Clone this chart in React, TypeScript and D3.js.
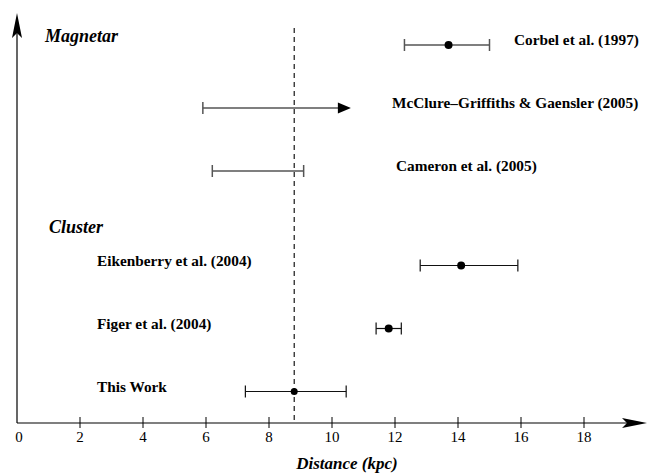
import * as d3 from "d3";

// distances in kpc
const studies = [
  "Corbel et al. (1997)",
  "McClure\u2013Griffiths & Gaensler (2005)",
  "Cameron et al. (2005)",
  "Eikenberry et al. (2004)",
  "Figer et al. (2004)",
  "This Work",
];
const groups = ["Magnetar", "Magnetar", "Magnetar", "Cluster", "Cluster", "Cluster"];
const central: (number | null)[] = [13.7, null, null, 14.1, 11.8, 8.8];
const lower = [12.3, 5.9, 6.2, 12.8, 11.4, 7.25];
const upper = [15.0, 10.6, 9.1, 15.9, 12.2, 10.45];
const lowerLimit = [false, true, false, false, false, false];
const refDistance = 8.8;
const xTicks = [0, 2, 4, 6, 8, 10, 12, 14, 16, 18];

const W = 648, H = 474;
const SERIF = '"Liberation Serif", "Times New Roman", serif';

export default function App() {
  const x = d3.scaleLinear().domain([0, 18]).range([17, 584]);
  // row slots: the cluster block is pushed down by half a row for its header
  const rowPos = [0, 1, 2, 3.5, 4.5, 5.5];
  const y = d3.scaleLinear().domain([0, 5.5]).range([45, 391.5]);
  const y0 = 423;
  const xEnd = 647, yTop = 13;

  // label anchors (px): right-hand for magnetar rows, left-hand for cluster rows
  const labelX = [514, 392, 396, 97, 97, 97];
  const txt = { fontFamily: SERIF };

  return (
    <svg width={W} height={H} style={{ position: "absolute", left: 0, top: 0, background: "#fff" }}>
      {/* axes */}
      <line x1={x(0)} x2={xEnd - 20} y1={y0} y2={y0} stroke="#000" strokeWidth={1.2} />
      <path d={`M${xEnd},${y0} L${xEnd - 25},${y0 - 5} L${xEnd - 20},${y0} L${xEnd - 25},${y0 + 5} Z`} fill="#000" />
      <line x1={x(0)} x2={x(0)} y1={y0} y2={yTop + 20} stroke="#000" strokeWidth={1.2} />
      <path d={`M${x(0)},${yTop} L${x(0) - 5},${yTop + 25} L${x(0)},${yTop + 20} L${x(0) + 5},${yTop + 25} Z`} fill="#000" />

      {xTicks.map((t) => (
        <g key={t}>
          {t > 0 && <line x1={x(t)} x2={x(t)} y1={y0 - 6} y2={y0 + 5} stroke="#000" strokeWidth={1} />}
          <text x={x(t) + (t === 0 ? 2 : 0)} y={y0 + 19} fontSize={15} textAnchor="middle" fill="#000" style={txt}>{t}</text>
        </g>
      ))}
      <text x={347} y={469} fontSize={17} fontWeight="bold" fontStyle="italic" textAnchor="middle" style={txt}>
        Distance (kpc)
      </text>

      {/* reference distance */}
      <line x1={x(refDistance)} x2={x(refDistance)} y1={28} y2={y0} stroke="#000" strokeWidth={1.1}
        strokeDasharray="5,4" />

      {/* group headers */}
      <text x={45} y={y(-0.05)} fontSize={18} fontWeight="bold" fontStyle="italic" style={txt}>Magnetar</text>
      <text x={49} y={y(2.98)} fontSize={18} fontWeight="bold" fontStyle="italic" style={txt}>Cluster</text>

      {studies.map((s, i) => {
        const yy = y(rowPos[i]);
        const mag = groups[i] === "Magnetar";
        const col = mag ? "#555" : "#111";
        const sw = mag ? 1.5 : 1.2;
        const c = central[i];
        return (
          <g key={s}>
            <line x1={x(lower[i])} x2={lowerLimit[i] ? x(upper[i]) - 12 : x(upper[i])} y1={yy} y2={yy}
              stroke={col} strokeWidth={sw} />
            <line x1={x(lower[i])} x2={x(lower[i])} y1={yy - 6} y2={yy + 6} stroke={col} strokeWidth={sw} />
            {lowerLimit[i] ? (
              <path d={`M${x(upper[i])},${yy} L${x(upper[i]) - 13},${yy - 5.5} L${x(upper[i]) - 13},${yy + 5.5} Z`} fill="#000" />
            ) : (
              <line x1={x(upper[i])} x2={x(upper[i])} y1={yy - 6} y2={yy + 6} stroke={col} strokeWidth={sw} />
            )}
            {c !== null && <circle cx={x(c)} cy={yy} r={i === 5 ? 3.5 : 4} fill="#000" />}
            <text x={labelX[i]} y={yy} fontSize={15.3} fontWeight="bold" fill="#000" style={txt}>{s}</text>
          </g>
        );
      })}
    </svg>
  );
}
